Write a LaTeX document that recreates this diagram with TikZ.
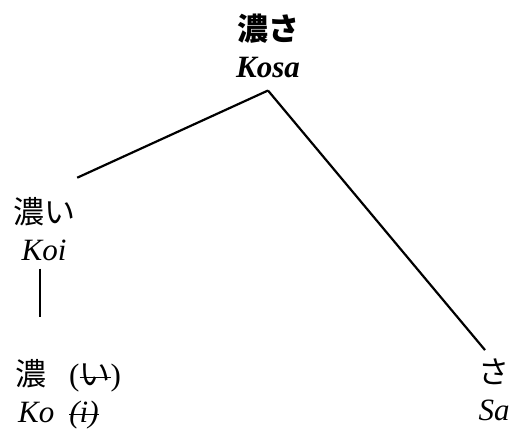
\documentclass[tikz,border=0pt]{standalone}
\usepackage{fontspec}
\setmainfont{Liberation Serif}
\newfontfamily\jfont{Noto Sans CJK JP}
\usetikzlibrary{calc}
\newcommand{\ja}[1]{{\jfont #1}}
\newsavebox{\strikebox}
\newcommand{\strike}[1]{\sbox{\strikebox}{#1}\rlap{\raisebox{0.22em}{\rule{\wd\strikebox}{1.2pt}}}\usebox{\strikebox}}

\begin{document}
\begin{tikzpicture}[x=1pt, y=-1pt,
  word/.style={align=center, inner sep=2pt, font=\fontsize{31}{37}\selectfont},
  branch/.style={line width=2.2pt}]
  \useasboundingbox (0,0) rectangle (513,430);
  % words
  \node[word, anchor=base] (kosa) at (268,78) {\ja{\bfseries 濃さ}\\\textbf{\textit{Kosa}}};
  \node[word, anchor=base] (koi) at (44,260) {\ja{濃い}\\\textit{Koi}};
  \node[word, align=left, anchor=base west] (ko) at (13,422)
    {\ja{濃}\hspace{23pt}(\strike{\ja{い}})\\\hspace{3pt}\textit{Ko}\hspace{15pt}\strike{\textit{(i)}}};
  \node[word, anchor=base] (sa) at (494,420) {\ja{さ}\\\textit{Sa}};
  % branches
  \draw[branch] ($(kosa.south)+(0,10)$) -- ($(koi.north east)+(0,-17)$);
  \draw[branch] ($(kosa.south)+(0,10)$) -- ($(sa.north)+(-9,-6)$);
  \draw[branch] ($(koi.south)+(-4,6)$) -- ($(koi.south |- ko.north)+(-4,-40)$);
\end{tikzpicture}
\end{document}
